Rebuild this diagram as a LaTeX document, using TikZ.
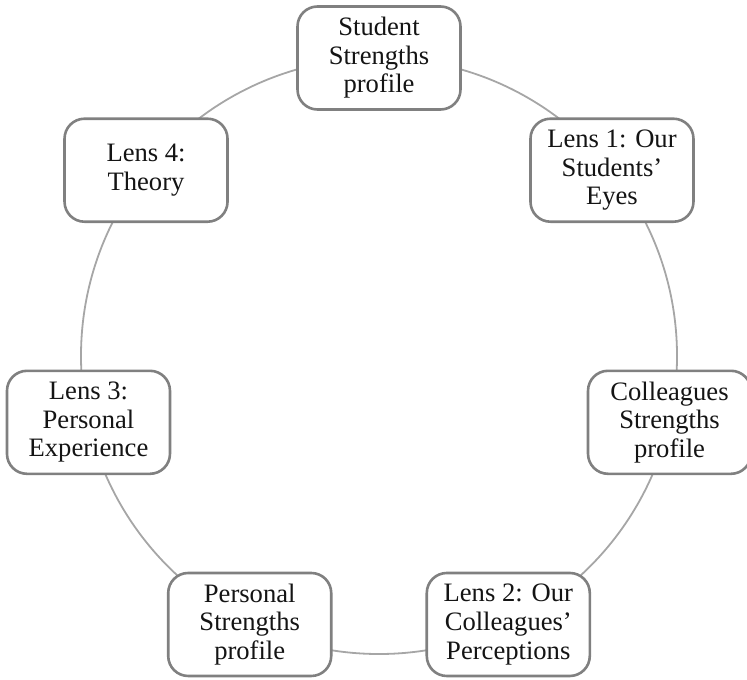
\documentclass[tikz,border=0pt]{standalone}
\usepackage{fontspec}
\setmainfont{Liberation Serif}
\usetikzlibrary{calc}
\begin{document}
\begin{tikzpicture}[x=0.5pt,y=0.5pt,
  cyclebox/.style={draw=black!50, line width=1.3pt, fill=white, rounded corners=10pt,
    minimum width=81.5pt, minimum height=51.5pt, inner sep=1pt, align=center,
    text=black!92, font=\fontsize{13.3}{14.3}\selectfont},
  ring/.style={draw=black!35, line width=0.9pt}]
\useasboundingbox (0,-679) rectangle (747,0);
\coordinate (C) at (379,-356);
\draw[ring] (C) circle (298);
\node[cyclebox] (ssp) at ($(C)+(90:298)$) {Student\\Strengths\\profile};
\node[cyclebox] (l1) at ($(C)+(38.571:298)$) {Lens 1: Our\\Students’\\Eyes};
\node[cyclebox] (csp) at ($(C)+(-12.857:298)$) {Colleagues\\Strengths\\profile};
\node[cyclebox] (l2) at ($(C)+(-64.286:298)$) {Lens 2: Our\\Colleagues’\\Perceptions};
\node[cyclebox] (psp) at ($(C)+(-115.714:298)$) {Personal\\Strengths\\profile};
\node[cyclebox] (l3) at ($(C)+(-167.143:298)$) {Lens 3:\\Personal\\Experience};
\node[cyclebox] (l4) at ($(C)+(141.429:298)$) {Lens 4:\\Theory};
\end{tikzpicture}
\end{document}
